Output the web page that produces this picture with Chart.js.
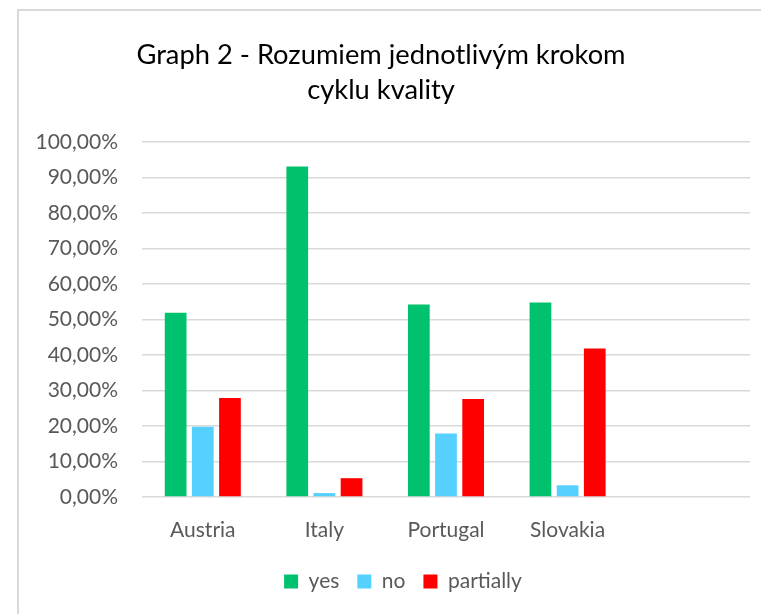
<!DOCTYPE html>
<html>
<head>
<meta charset="utf-8">
<script src="https://cdn.jsdelivr.net/npm/chart.js@4"></script>
<style>
    html, body { margin: 0; padding: 0; background: #fff; overflow: hidden; }
    #frame { position: absolute; left: 17px; top: 9px; width: 800px; height: 700px; border: 2px solid #d9d9d9; }
    #chart { position: absolute; left: 0; top: 0; }
</style>
</head>
<body>
<div id="frame"></div>
<canvas id="chart" width="761" height="614"></canvas>
<script>
// Values (percent)
const countries = ['Austria', 'Italy', 'Portugal', 'Slovakia', ''];
const yesValues = [51.9, 93.1, 54.2, 54.8, null];
const noValues = [19.8, 1.1, 17.9, 3.3, null];
const partiallyValues = [27.9, 5.3, 27.6, 41.8, null];
const titleLines = ['Graph 2 - Rozumiem jednotlivým krokom', 'cyklu kvality'];

const fontFamily = 'Lato, "Open Sans", sans-serif';
const textGray = '#595959';
const gridGray = '#d9d9d9';

// excel puts the legend a bit right of the title centre
const shiftLegend = {
    id: 'shiftLegend',
    afterLayout(chart) {
        chart.legend.left += 22;
        chart.legend.right += 22;
    }
};

new Chart(document.getElementById('chart'), {
    type: 'bar',
    data: {
        labels: countries,
        datasets: [
            { label: 'yes', data: yesValues, backgroundColor: '#00c26e' },
            { label: 'no', data: noValues, backgroundColor: '#55d0ff' },
            { label: 'partially', data: partiallyValues, backgroundColor: '#ff0000' }
        ]
    },
    options: {
        responsive: false,
        animation: false,
        layout: { padding: { left: 12, right: 11, top: 0, bottom: 12 } },
        datasets: {
            bar: { categoryPercentage: 0.67, barPercentage: 0.8 }
        },
        plugins: {
            tooltip: { enabled: false },
            title: {
                display: true,
                text: titleLines,
                color: '#000',
                font: { family: fontFamily, size: 27.3, weight: 'normal', lineHeight: 1.28 },
                padding: { top: 38, bottom: 34 }
            },
            legend: {
                position: 'bottom',
                labels: {
                    color: textGray,
                    font: { family: fontFamily, size: 21 },
                    boxWidth: 14,
                    boxHeight: 14,
                    padding: 18
                }
            }
        },
        scales: {
            x: {
                afterFit: s => { s.height = 56; },
                grid: { display: false },
                border: { display: false },
                ticks: { color: textGray, font: { family: fontFamily, size: 21 }, padding: 13 }
            },
            y: {
                min: 0,
                max: 100,
                afterFit: s => { s.width = 130; },
                grid: { color: gridGray, lineWidth: 1.5, drawTicks: false },
                border: { display: false },
                ticks: {
                    stepSize: 10,
                    padding: 24,
                    color: textGray,
                    font: { family: fontFamily, size: 21 },
                    callback: v => v.toFixed(2).replace('.', ',') + '%'
                }
            }
        }
    },
    plugins: [shiftLegend]
});
</script>
</body>
</html>
